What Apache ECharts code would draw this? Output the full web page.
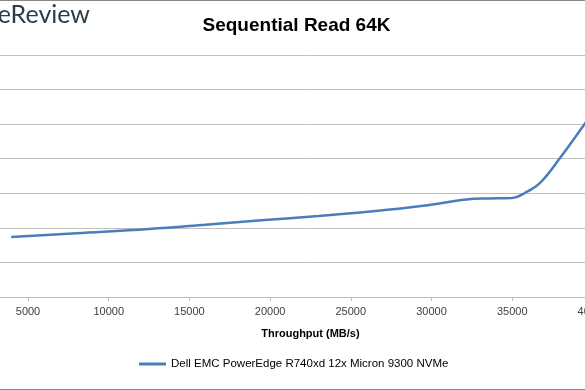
<!DOCTYPE html>
<html>
<head>
<meta charset="utf-8">
<script src="https://cdn.jsdelivr.net/npm/echarts@6/dist/echarts.min.js"></script>
<style>
html,body{margin:0;padding:0;width:585px;height:390px;overflow:hidden;background:#fff;}
#chart{position:absolute;left:-100px;top:0;width:800px;height:390px;}
</style>
</head>
<body>
<div id="chart"></div>
<script>
// Data (throughput MB/s vs average latency ms)
const throughput = [3959, 8000, 12516, 16000, 19449, 23000, 26382, 29500, 32163, 33500, 34938, 35800, 36723, 37962, 39511, 40300];
const latency    = [0.867, 0.922, 0.983, 1.045, 1.110, 1.172, 1.240, 1.319, 1.410, 1.425, 1.430, 1.507, 1.650, 2.010, 2.510, 2.780];
const seriesName = 'Dell EMC PowerEdge R740xd 12x Micron 9300 NVMe';
const chartTitle = 'Sequential Read 64K';
const xAxisTitle = 'Throughput (MB/s)';
const yAxisTitle = 'Average Latency (ms)';

const points = throughput.map((x, i) => [x, latency[i]]);

const chart = echarts.init(document.getElementById('chart'));
chart.setOption({
  animation: false,
  backgroundColor: '#ffffff',
  title: {
    text: chartTitle,
    left: 391.5,
    textAlign: 'center',
    top: 11,
    textStyle: { fontFamily: 'Liberation Sans', fontWeight: 'bold', fontSize: 19, color: '#000' }
  },
  graphic: [
    { type: 'text', x: 190, y: 2, style: { text: 'StorageReview', fontFamily: 'Lato', fontSize: 25, fill: '#2b3d4b', align: 'right', verticalAlign: 'top' } },
    { type: 'line', shape: { x1: 0, y1: 0.5, x2: 800, y2: 0.5 }, style: { stroke: '#8a8a8a', lineWidth: 1 } },
    { type: 'line', shape: { x1: 0, y1: 389.5, x2: 800, y2: 389.5 }, style: { stroke: '#8a8a8a', lineWidth: 1 } }
  ],
  legend: {
    left: 234,
    top: 353,
    icon: 'rect',
    itemWidth: 27,
    itemHeight: 3,
    itemGap: 10,
    textStyle: { fontFamily: 'Liberation Sans', fontSize: 11.5, color: '#000' },
    data: [seriesName]
  },
  grid: { left: 47.3, right: 26.4, top: 55, bottom: 93, containLabel: false, outerBoundsMode: 'none' },
  xAxis: {
    type: 'value',
    min: 0, max: 45000, interval: 5000,
    name: xAxisTitle,
    nameLocation: 'middle',
    nameGap: 31,
    nameTextStyle: { fontFamily: 'Liberation Sans', fontWeight: 'bold', fontSize: 11, color: '#000' },
    axisLine: { show: true, lineStyle: { color: '#bfbfbf', width: 1 } },
    axisTick: { show: true, length: 4, lineStyle: { color: '#bfbfbf' } },
    axisLabel: { margin: 9, fontFamily: 'Liberation Sans', fontSize: 11, color: '#404040', formatter: v => String(v) },
    splitLine: { show: false }
  },
  yAxis: {
    type: 'value',
    min: 0, max: 3.5, interval: 0.5,
    name: yAxisTitle,
    nameLocation: 'middle',
    nameGap: 40,
    axisLine: { show: false },
    axisTick: { show: false },
    axisLabel: { fontFamily: 'Liberation Sans', fontSize: 11, color: '#404040' },
    splitLine: { show: true, lineStyle: { color: '#c0c0c0', width: 1 } }
  },
  series: [{
    name: seriesName,
    type: 'line',
    data: points,
    smooth: 0.4,
    showSymbol: false,
    symbol: 'none',
    lineStyle: { color: '#4a7ebb', width: 2.5 },
    itemStyle: { color: '#4a7ebb' }
  }]
});
</script>
</body>
</html>
